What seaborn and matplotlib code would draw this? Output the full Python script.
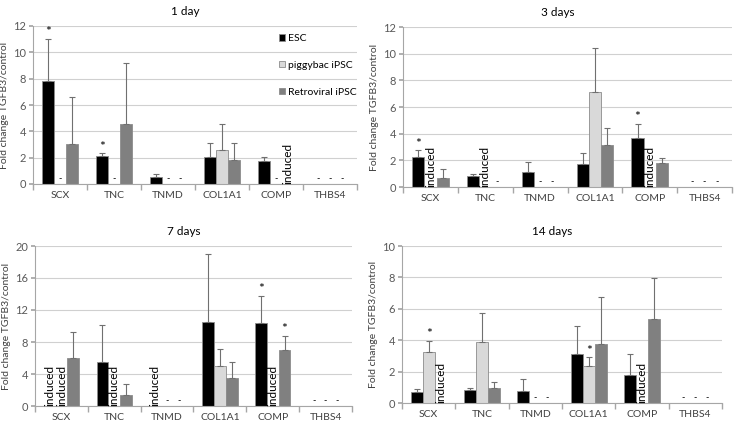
import numpy as np
import pandas as pd
import matplotlib
matplotlib.use("Agg")
import matplotlib.pyplot as plt
import seaborn as sns

genes = ["SCX", "TNC", "TNMD", "COL1A1", "COMP", "THBS4"]
series = ["ESC", "piggybac iPSC", "Retroviral iPSC"]
titles = ["1 day", "3 days", "7 days", "14 days"]

# ---- 1 day ----
d1_esc = [7.85, 2.10, 0.55, 2.05, 1.72, 0]
d1_esc_err = [3.20, 0.23, 0.23, 1.03, 0.36, 0]
d1_esc_lab = ["*", "*", "", "", "", "-"]
d1_pig = [0, 0, 0, 2.55, 0, 0]
d1_pig_err = [0, 0, 0, 1.97, 0, 0]
d1_pig_lab = ["-", "-", "-", "", "-", "-"]
d1_ret = [3.05, 4.58, 0, 1.85, 0, 0]
d1_ret_err = [3.57, 4.64, 0, 1.25, 0, 0]
d1_ret_lab = ["", "", "-", "", "induced", "-"]

# ---- 3 days ----
d3_esc = [2.27, 0.85, 1.15, 1.70, 3.65, 0]
d3_esc_err = [0.48, 0.15, 0.70, 0.82, 1.10, 0]
d3_esc_lab = ["*", "", "", "", "*", "-"]
d3_pig = [0, 0, 0, 7.15, 0, 0]
d3_pig_err = [0, 0, 0, 3.27, 0, 0]
d3_pig_lab = ["induced", "induced", "-", "", "induced", "-"]
d3_ret = [0.65, 0, 0, 3.12, 1.80, 0]
d3_ret_err = [0.70, 0, 0, 1.28, 0.35, 0]
d3_ret_lab = ["", "-", "-", "", "", "-"]

# ---- 7 days ----
d7_esc = [0, 5.55, 0, 10.50, 10.35, 0]
d7_esc_err = [0, 4.55, 0, 8.50, 3.45, 0]
d7_esc_lab = ["induced", "", "induced", "", "*", "-"]
d7_pig = [0, 0, 0, 5.05, 0, 0]
d7_pig_err = [0, 0, 0, 2.05, 0, 0]
d7_pig_lab = ["induced", "induced", "-", "", "induced", "-"]
d7_ret = [6.00, 1.40, 0, 3.45, 7.00, 0]
d7_ret_err = [3.25, 1.40, 0, 2.00, 1.75, 0]
d7_ret_lab = ["", "", "-", "", "*", "-"]

# ---- 14 days ----
d14_esc = [0.70, 0.85, 0.75, 3.10, 1.80, 0]
d14_esc_err = [0.18, 0.10, 0.75, 1.78, 1.35, 0]
d14_esc_lab = ["", "", "", "", "", "-"]
d14_pig = [3.28, 3.88, 0, 2.35, 0, 0]
d14_pig_err = [0.67, 1.84, 0, 0.55, 0, 0]
d14_pig_lab = ["*", "", "-", "*", "induced", "-"]
d14_ret = [0, 0.97, 0, 3.75, 5.38, 0]
d14_ret_err = [0, 0.38, 0, 3.03, 2.60, 0]
d14_ret_lab = ["induced", "", "-", "", "", "-"]

panels = [
    (d1_esc, d1_esc_err, d1_esc_lab, d1_pig, d1_pig_err, d1_pig_lab, d1_ret, d1_ret_err, d1_ret_lab),
    (d3_esc, d3_esc_err, d3_esc_lab, d3_pig, d3_pig_err, d3_pig_lab, d3_ret, d3_ret_err, d3_ret_lab),
    (d7_esc, d7_esc_err, d7_esc_lab, d7_pig, d7_pig_err, d7_pig_lab, d7_ret, d7_ret_err, d7_ret_lab),
    (d14_esc, d14_esc_err, d14_esc_lab, d14_pig, d14_pig_err, d14_pig_lab, d14_ret, d14_ret_err, d14_ret_lab),
]
ylims = [(12, 2), (12, 2), (20, 4), (10, 2)]

colors = ["#000000", "#d9d9d9", "#808080"]

sns.set_theme(style="white")
plt.rcParams["font.family"] = ["Lato", "DejaVu Sans"]

fig = plt.figure(figsize=(7.38, 4.23), dpi=100)
rects = [
    (33 / 738, (423 - 184) / 423, 324 / 738, 158 / 423),
    (403 / 738, (423 - 187) / 423, 329 / 738, 160 / 423),
    (35 / 738, (423 - 406) / 423, 317 / 738, 160 / 423),
    (402 / 738, (423 - 403) / 423, 320 / 738, 157 / 423),
]

axis_grey = "#a6a6a6"
text_col = "#404040"

for i, (title, pdata, rect, (ymax, ystep)) in enumerate(zip(titles, panels, rects, ylims)):
    ax = fig.add_axes(rect)
    vals = [pdata[0], pdata[3], pdata[6]]
    errs = [pdata[1], pdata[4], pdata[7]]
    labs = [pdata[2], pdata[5], pdata[8]]
    rows = []
    for s, v in zip(series, vals):
        for g, val in zip(genes, v):
            rows.append({"gene": g, "series": s, "value": val})
    df = pd.DataFrame(rows)
    sns.barplot(data=df, x="gene", y="value", hue="series", order=genes,
                hue_order=series, palette=colors, width=0.67, errorbar=None,
                edgecolor="#8c8c8c", linewidth=0.6, ax=ax, legend=(i == 0),
                zorder=2)
    bar_conts = list(ax.containers)
    for j, cont in enumerate(bar_conts):
        for k, bar in enumerate(cont.patches):
            x = bar.get_x() + bar.get_width() / 2
            h = vals[j][k]
            e = errs[j][k]
            lab = labs[j][k]
            if h == 0:
                bar.set_linewidth(0)
            if e > 0:
                ax.errorbar([x], [h], yerr=[[0], [e]], fmt="none",
                            ecolor="#707070", elinewidth=0.8, capsize=2.5,
                            capthick=0.8, zorder=3)
            if lab == "induced":
                ax.text(x, 0, "induced", rotation=90, ha="center", va="bottom",
                        fontsize=8.5, color="#000000", zorder=4)
            elif lab == "-":
                ax.text(x, ymax * 0.004, "-", ha="center", va="bottom",
                        fontsize=6.5, color="#000000", zorder=4)
            elif lab == "*":
                ax.annotate("*", (x, h + e), xytext=(0, 0.5),
                            textcoords="offset points", ha="center",
                            va="bottom", fontsize=10, color="#000000")
    ax.set_xlim(-0.5, 5.5)
    ax.set_ylim(0, ymax)
    ax.set_yticks(np.arange(0, ymax + 0.01, ystep))
    ax.yaxis.grid(True, color="#d0d0d0", linewidth=0.8)
    ax.set_axisbelow(True)
    for sp in ["top", "right"]:
        ax.spines[sp].set_visible(False)
    for sp in ["left", "bottom"]:
        ax.spines[sp].set_color(axis_grey)
        ax.spines[sp].set_linewidth(0.8)
    ax.set_xticks(np.arange(-0.5, 6, 1), minor=True)
    ax.tick_params(axis="x", which="minor", length=4, color=axis_grey,
                   direction="out", bottom=True)
    ax.tick_params(axis="x", which="major", length=0, pad=5,
                   labelsize=7.5, labelcolor=text_col)
    ax.tick_params(axis="y", which="major", length=3, color=axis_grey,
                   direction="out", left=True, labelsize=8,
                   labelcolor="#595959", pad=2)
    ax.set_xlabel("")
    ax.set_ylabel("Fold change TGFB3/control", fontsize=7.5, color=text_col,
                  labelpad=3)
    ax.set_title(title, fontsize=8.5, color="#000000", x=0.47, pad=8)
    if i == 0:
        leg = ax.legend(loc="upper left", bbox_to_anchor=(0.745, 0.975),
                        frameon=False, fontsize=7.5, labelspacing=1.7,
                        handlelength=0.6, handleheight=0.6, handletextpad=0.3,
                        borderaxespad=0)
        for t in leg.get_texts():
            t.set_color("#000000")

fig.savefig("out.png", dpi=100)
